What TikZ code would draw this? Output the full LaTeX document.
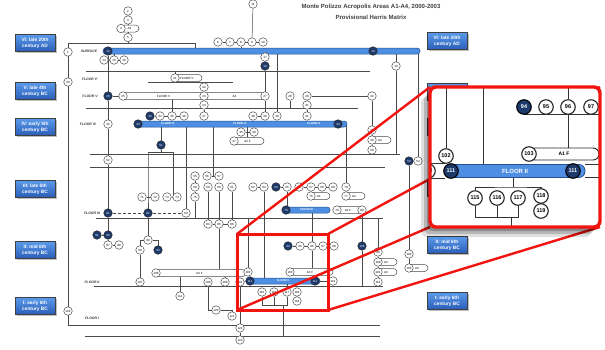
\documentclass[tikz,border=0pt]{standalone}
\usepackage{fontspec}
\setmainfont{Liberation Sans}
\usepackage{tikz}
\usetikzlibrary{positioning,shadows}
\definecolor{perBlue}{HTML}{5A9AEA}
\definecolor{perBlueDk}{HTML}{2A5DB8}
\definecolor{barBlue}{HTML}{4E8EE3}
\definecolor{barEdge}{HTML}{24508F}
\definecolor{ctxNavy}{HTML}{1D3A6C}
\definecolor{zoomRed}{HTML}{F2140F}
\definecolor{ink}{HTML}{4A4A4A}
\pgfdeclarelayer{background}
\pgfdeclarelayer{insetbg}
\pgfdeclarelayer{insetfg}
\pgfsetlayers{background,main,insetbg,insetfg}
\tikzset{
  ctx/.style={circle, draw=ink, line width=0.5pt, fill=white, inner sep=0pt, minimum size=8.5pt, font=\fontsize{3}{3}\selectfont},
  ctxdk/.style={ctx, fill=ctxNavy, draw=black!85, text=white},
  ctxbox/.style={rectangle, rounded corners=3.5pt, draw=ink, line width=0.5pt, fill=white, inner sep=0pt, minimum height=7pt, font=\fontsize{3}{3}\selectfont},
  floorbar/.style={rectangle, rounded corners=2.8pt, draw=barEdge, line width=0.5pt, fill=barBlue, inner sep=0pt, minimum height=6pt, font=\fontsize{2.8}{3}\bfseries\selectfont, text=white},
  floortxt/.style={inner sep=0pt, font=\fontsize{2.8}{3}\bfseries\selectfont, text=white},
  floorlbl/.style={inner sep=0pt, font=\fontsize{3.4}{4}\bfseries\itshape\selectfont, text=black!80},
  phaseline/.style={draw=ink, line width=0.6pt},
  link/.style={draw=ink, line width=0.5pt},
  period/.style={rectangle, draw=black!75, line width=0.6pt, top color=perBlue, bottom color=perBlueDk, text=white, font=\fontsize{4.8}{5.8}\bfseries\selectfont, align=center, minimum width=40pt, minimum height=17pt, inner sep=1pt, drop shadow={shadow xshift=1.5pt, shadow yshift=-1.5pt, opacity=0.5}},
  zoomline/.style={draw=zoomRed, line width=2.4pt},
  srcbox/.style={rectangle, draw=zoomRed, line width=3pt, outer sep=0pt, inner sep=0pt, minimum width=91pt, minimum height=76pt},
  insetbox/.style={rectangle, rounded corners=6pt, fill=white, minimum width=170pt, minimum height=140pt, outer sep=0pt, inner sep=0pt,
    drop shadow={shadow xshift=-9pt, shadow yshift=-10pt, opacity=0.12, fill=black},
    drop shadow={shadow xshift=-6pt, shadow yshift=-7pt, opacity=0.18, fill=black},
    drop shadow={shadow xshift=-3pt, shadow yshift=-4pt, opacity=0.25, fill=black}},
  zctx/.style={circle, draw=black!85, line width=1.1pt, fill=white, inner sep=0pt, minimum size=14.5pt, font=\fontsize{5.5}{6}\bfseries\selectfont},
  zctxdk/.style={zctx, fill=ctxNavy, text=white, draw=black},
  zbox/.style={rectangle, rounded corners=6pt, draw=black!85, line width=0.9pt, fill=white, inner sep=0pt, minimum height=12pt, font=\fontsize{5}{6}\bfseries\selectfont},
  zbar/.style={rectangle, rounded corners=6pt, draw=barEdge, line width=0.8pt, fill=barBlue, inner sep=0pt, minimum height=13pt, font=\fontsize{6}{7}\bfseries\selectfont, text=white},
  zlink/.style={draw=black!80, line width=0.9pt},
}

\begin{document}
\begin{tikzpicture}[x=1pt, y=-1pt]
\begin{pgfonlayer}{background}
\fill[white] (0,0) rectangle (605,349);
\end{pgfonlayer}
\useasboundingbox (0,0) rectangle (605,349);

\node[font=\fontsize{6}{7}\bfseries\selectfont, text=black!75] (title) at (371,7) {Monte Polizzo Acropolis Areas A1-A4, 2000-2003};
\node[font=\fontsize{6}{7}\bfseries\selectfont, text=black!75] (subtitle) at (371,17) {Provisional Harris Matrix};

\node[floorbar, minimum width=317pt] (s0) at (261.5,51) {};
\node[floorbar, minimum width=212pt] (s4) at (241,124) {};
\node[floortxt] (l4a) at (168,124) {FLOOR IV};
\node[floortxt] (l4b) at (240,124) {FLOOR IV};
\node[floortxt] (l4c) at (314,124) {FLOOR IV};
\node[floorbar, minimum width=47pt] (s3) at (306.5,210) {FLOOR III};
\node[floorbar, minimum width=74pt] (s2) at (283,281) {FLOOR II};

\node[floorlbl] (lsurf) at (89,51) {SURFACE};
\node[floorlbl] (lf5p) at (90,79) {FLOOR V'};
\node[floorlbl] (lf5) at (90,96) {FLOOR V};
\node[floorlbl] (lf4) at (88,124) {FLOOR IV};
\node[floorlbl] (lf3) at (92,213) {FLOOR III};
\node[floorlbl] (lf2) at (92,282) {FLOOR II};
\node[floorlbl] (lf1) at (92,318) {FLOOR I};

\foreach \x/\w/\y/\t/\n in {129.5/19/28.5/A4/4, 187/30/78/FLOOR V'/21, 163.5/85/96/FLOOR V/25, 234.5/61/96/A3/A3,
  247.5/33/141/A2 F/47, 380/22/140/A2/49, 319/22/196/A1/76, 354/22/196/A2/77, 348/28/210/A4 F/79,
  386/22/262/A2/100, 386/22/272/A3/101, 417/22/268/A4/105, 199.5/93/273/A2 F/106, 310/46/272/A1 F/103}
  \node[ctxbox, minimum width=\w pt] (b\n) at (\x,\y) {\t};

\foreach \x/\y/\n in {128/11/2, 128/20/3, 121/28.5/4, 128/37.5/5, 68/52/1, 253/4/11,
  218/42/6, 230/42/7, 241/42/8, 252/42/9, 263/42/10,
  104/60/14, 114/60/15, 124/60/16, 265/57/17, 396/66/19, 68/82/20,
  175/78/21, 204/87/22, 204/96/23, 204/105/24, 123/96/25, 265/96/27, 290/96/28, 307/96/29, 307/105/31, 372/96/32,
  160/116/34, 172/116/35, 184/116/36, 204/116/37, 253/116/38, 265/116/39, 277/116/40, 307/116/41,
  108/124/42, 241/132/45, 254/132/46, 234/141/47, 372/130/48, 372/140/49, 372/150/50, 108/160/52, 418/161/54,
  195/176/55, 207/176/56, 219/176/57,
  195/187/58, 208/187/59, 219/187/60, 232/187/61, 253/187/62, 264/187/63, 287/187/65, 299/187/66, 311/187/67, 322/187/68, 333/187/69, 346/187/70,
  142/197/71, 155/197/72, 167/197/73, 177/197/74, 195/197/75, 311/196/76, 346/196/77,
  337/210/79, 362/210/80, 186/213/83,
  208/224/84, 219/224/85, 232/224/86,
  108/245/87, 119/245/88, 148/240/89, 140/250/90,
  300/246/95, 312/246/96, 323/246/97, 334/246/98,
  378/252/99, 378/262/100, 378/272/101, 409/254/104, 409/268/105,
  248/272/102, 290/272/103, 156/273/106,
  140/282/107, 208/282/108, 225/282/109, 240/282/110, 333/281/112, 378/282/113,
  180/296/114,
  262/292/115, 274/292/116, 287/292/117, 297/292/118, 297/301/119,
  216/310/120, 232/316/121, 240/328/122, 240/340/123, 68/311/124}
  \node[ctx] (n\n) at (\x,\y) {\n};

\foreach \x/\y/\n in {108/51/12, 373/51/13, 265/66/18, 108/96/26, 150/116/33, 138/124/43, 338/124/44,
  161/145/51, 409/161/53, 276/187/64, 286/210/78, 108/213/81, 148/213/82, 97/235/91, 108/235/92,
  158/250/93, 288/246/94, 362/246/126, 250/281/111}
  \node[ctxdk] (n\n) at (\x,\y) {\n};
\node[ctxdk] (n111r) at (315,281) {111};

\coordinate (ftop) at (68,43);
\coordinate (k1) at (148,152);
\coordinate (k2) at (173,152);
\coordinate (k3) at (213,176);
\coordinate (k6) at (262,305);
\coordinate (k8) at (283,305);
\foreach \x/\y/\l in {86/71/284, 148/82/85, 86/108/272, 90/154/310, 90/167/295, 96/218/287, 94/286/289, 85/336/295}
  \coordinate (p\y) at (\x,\y);

\begin{pgfonlayer}{background}
\foreach \x/\y/\l in {86/71/284, 148/82/85, 86/108/272, 90/154/310, 90/167/295, 96/218/287, 94/286/289, 85/336/295}
  \draw[phaseline] (p\y) -- ++(\l,0);
\draw[phaseline] (195,48) |- (ftop) -- (68,325) -- (380,325);

\draw[link] (n2) -- (n5) -- (n5 |- ftop);
\draw[link] (n11) -- (n9);
\draw[link] (n6) -- (n10);
\draw[link] (n8) -- (n8 |- s0.north);
\draw[link] (n14) -- (n16);
\draw[link] (n15) -- (n15 |- s0.south);
\draw[link] (n17 |- s0.south) -- (n17) -- (n18) -- (n27) -- (n39) -- (n39 |- s4.north);
\draw[link] (n19 |- s0.south) -- (n19) -- (n19 |- p154);
\draw[link] (n12) -- (n26) -- (n42) -- (n52) -- (n81) -- (n92) -- (n87);
\draw[link] (n26) -- (n25);
\draw[link] (n91) -- (n92);
\draw[link] (n87) -- (n88);
\draw[link] (n22 |- p82) -- (n22) -- (n23) -- (n24) -- (n37) -- (n37 |- s4.north);
\draw[link] (n21) -- (n21 |- p71);
\draw[link] (n28) -- (n28 |- p108);
\draw[link] (n29) -- (n31) -- (n41) -- (n41 |- s4.north);
\draw[link] (n29) -- (n32);
\draw[link] (n33) -- (n36);
\draw[link] (n35) -- (n35 |- b25.south);
\draw[link] (n38) -- (n39);
\draw[link] (n40) -- (n40 |- s0.south);
\draw[link] (n51 |- s4.south) -- (n51) -- (n51 |- k1);
\draw[link] (k1) -- (k2);
\draw[link] (k1) -- (k1 |- n71) -- (n82) -- (n89);
\draw[link] (k2) -- (k2 |- n73);
\draw[link] (n71) -- (n72);
\draw[link] (n73) -- (n74);
\draw[link] (n45) -- (n46);
\draw[link] (b47) -- (b47 |- s4.south);
\draw[link] (n32) -- (n48) -- (n49) -- (n50);
\draw[link] (n44.east) -| (n70) -- (n77);
\draw[link] (n83 |- s4.south) -- (n83) -- (n83 |- p218);
\draw[link, densely dashed] (n81) -- (n83);
\draw[link] (n56) -- (n57);
\draw[link] (k3) -- (k3 |- s4.south);
\draw[link] (n55) -- (n58) -- (n75) -- (n75 |- p218);
\draw[link] (n59) -- (n84);
\draw[link] (n60) -- (n85);
\draw[link] (n61) -- (n86);
\draw[link] (n84) -- (n86);
\draw[link] (n85) -- (n85 |- b106.north);
\draw[link] (n62) -- (n63);
\draw[link] (n63) -- (n63 |- s2.north);
\draw[link] (n64) -- (n65);
\draw[link] (n65) -- (n65 |- s3.north);
\draw[link] (n66) -- (n69);
\draw[link] (n67) -- (n76);
\draw[link] (n80) -- (n126) -- (n126 |- p286);
\draw[link] (n90) |- (n89);
\draw[link] (n93) |- (n89);
\draw[link] (n90) -- (n107) -- (n107 |- p286);
\draw[link] (n114) -- (n114 |- b106.south);
\draw[link] (n109) -- (n109 |- b106.south);
\draw[link] (n108) |- (n120);
\draw[link] (n120) -| (n121);
\draw[link] (n110) -- (n111);
\draw[link] (n110) -- (n122) -- (n123);
\draw[link] (n94) -- (n98);
\draw[link] (n96) -- (n96 |- s3.south);
\draw[link] (n96) -- (n96 |- b103.north);
\draw[link] (n102) -- (n102 |- p218);
\draw[link] (n117) -- (n117 |- s2.south);
\draw[link] (n115) -- (n115 |- k6) -| (n117);
\draw[link] (n116) -- (n116 |- k6);
\draw[link] (k8) -- (k8 |- p336);
\draw[link] (n118) -- (n119);
\draw[link] (s2.east) -- (n112);
\draw[link] (n99 |- p218) -- (n99) -- (n100) -- (n101) -- (n113);
\draw[link] (n53) -- (n104) -- (n105);
\draw[link] (n53) -- (n54) -- (n54 |- s0.south);
\end{pgfonlayer}

\foreach \yl/\yr/\n/\t in {43/41/6/{VI: late 20th\\century AD}, 91/92/5/{V: late 4th\\century BC}, 127/127/4/{IV: early 5th\\century BC},
  189/188/3/{III: late 6th\\century BC}, 250/245/2/{II: mid 6th\\century BC}, 306/301/1/{I: early 6th\\century BC}}
{
  \node[period] (pl\n) at (35,\yl) {\t};
  \node[period] (pr\n) at (447,\yr) {\t};
}

\begin{pgfonlayer}{insetbg}
\node[insetbox] (inset) at (515,157) {};
\end{pgfonlayer}

\node[srcbox] (src) at (282.5,272) {};
\draw[zoomline] (src.north west) -- (inset.north west);
\draw[zoomline] (src.north east) -- (inset.north east);
\draw[zoomline] (src.south west) -- (inset.south west);
\draw[zoomline] (src.south east) -- (inset.south east);
\node[srcbox] at (src) {};

\begin{pgfonlayer}{insetfg}
\begin{scope}
\clip[rounded corners=6pt] (inset.south west) rectangle (inset.north east);
\node[zbox, minimum width=70pt] (zb103) at (564,154) {A1 F};
\node[zbar, minimum width=140pt] (zbar) at (515,171) {FLOOR II};
\node[zctxdk] (z94) at (524,107) {94};
\node[zctx] (z95) at (546,107) {95};
\node[zctx] (z96) at (568,107) {96};
\node[zctx] (z97) at (591,107) {97};
\node[zctx] (z102) at (446,156) {102};
\node[zctx] (z103) at (529,154) {103};
\node[zctx] (z110) at (428,171) {110};
\node[zctxdk] (z111) at (451,171) {111};
\node[zctxdk] (z111r) at (573,171) {111};
\node[zctx] (z115) at (475,198) {115};
\node[zctx] (z116) at (497,198) {116};
\node[zctx] (z117) at (518,198) {117};
\node[zctx] (z118) at (541,196) {118};
\node[zctx] (z119) at (541,211) {119};
\end{scope}
\draw[draw=zoomRed, line width=3.4pt, rounded corners=6pt] (inset.south west) rectangle (inset.north east);
\end{pgfonlayer}

\begin{pgfonlayer}{insetbg}
\begin{scope}
\clip[rounded corners=6pt] (inset.south west) rectangle (inset.north east);
\coordinate (zk1) at (483,171);
\coordinate (zk2) at (513,187);
\coordinate (zk3) at (511,217);
\draw[zlink] (z94.south) -- (z94.south -| inset.east);
\draw[zlink] (z96) -- (z96 |- inset.north);
\draw[zlink] (z96) -- (z96 |- zb103.north);
\draw[zlink] (z102) -- (z102 |- inset.north);
\draw[zlink] (zk1 |- inset.north) -- (zk1);
\draw[zlink] (z110.north) -- (z110.north -| zbar.west);
\draw[zlink] (z110.south) -- (z110.south -| zbar.west);
\draw[zlink] (zbar.north east) -- (zbar.north east -| inset.east);
\draw[zlink] (zbar.south east) -- (zbar.south east -| inset.east);
\draw[zlink] (zk2 |- zbar.south) -- (zk2);
\draw[zlink] (z115) |- (zk2) -| (z118);
\draw[zlink] (z118) -- (z119);
\draw[zlink] (z115) -- (z115 |- zk3) -| (z117);
\draw[zlink] (z116) -- (z116 |- zk3);
\draw[zlink] (zk3) -- (zk3 |- inset.south);
\end{scope}
\end{pgfonlayer}
\end{tikzpicture}
\end{document}
